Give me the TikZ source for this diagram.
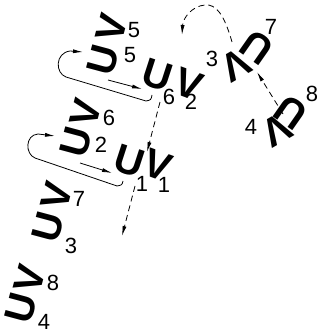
\documentclass[tikz,border=0pt]{standalone}
\usepackage{fontspec}
\setmainfont{Liberation Sans}
\usetikzlibrary{arrows.meta}
\begin{document}
\begin{tikzpicture}[x=1pt,y=-1pt,
  gl/.style={font=\fontsize{40}{40}\selectfont\bfseries, inner sep=0pt},
  num/.style={font=\fontsize{22}{22}\selectfont, inner sep=0pt},
  lp/.style={line width=0.8pt, -{Latex[length=10pt,width=4pt]}},
  dsh/.style={line width=0.8pt, dash pattern=on 6pt off 4pt, -{Latex[length=10pt,width=4pt]}}]
\useasboundingbox (0,0) rectangle (321,336);
% left column
\node[gl, rotate=75] (V5) at (112,28) {V};
\node[num] (n5a) at (134,30) {5};
\node[gl, rotate=75] (U5) at (103,60) {U};
\node[num] (n5b) at (130,55) {5};
\node[gl, rotate=-18] (U6) at (157,75) {U};
\node[num] (n6) at (169,97) {6};
\node[gl, rotate=-20] (V2) at (189,84) {V};
\node[num] (n2) at (191,102) {2};
\node[gl, rotate=75] (V6) at (86,113) {V};
\node[num] (n6b) at (109,118) {6};
\node[gl, rotate=75] (U2) at (76,142) {U};
\node[num] (n2b) at (101,145) {2};
\node[gl, rotate=-18] (U1) at (129,161) {U};
\node[num] (n1a) at (142,184) {1};
\node[gl, rotate=-20] (V1) at (158,165) {V};
\node[num] (n1b) at (164,185) {1};
\node[gl, rotate=75] (V7) at (57,196) {V};
\node[num] (n7) at (79,199) {7};
\node[gl, rotate=75] (U3) at (48,227) {U};
\node[num] (n3) at (71,246) {3};
\node[gl, rotate=75] (V8) at (30,279) {V};
\node[num] (n8) at (53,283) {8};
\node[gl, rotate=75] (U4) at (21,308) {U};
\node[num] (n4) at (44,322) {4};
% right
\node[num] (n3r) at (212,59) {3};
\node[gl, rotate=210] (Wa) at (236,65) {V};
\node[gl, rotate=145] (Ua) at (257,47) {U};
\node[num] (n7r) at (271,27) {7};
\node[num] (n4r) at (251,127) {4};
\node[gl, rotate=210] (Wb) at (277,130) {V};
\node[gl, rotate=145] (Ub) at (291,112) {U};
\node[num] (n8r) at (312,94) {8};
% coordinates
\coordinate (h1) at (152,95);
\coordinate (t1) at (83,52);
\coordinate (h2) at (123,181);
\coordinate (t2) at (55,136);
\coordinate (s1a) at (108,80);
\coordinate (s1b) at (142,89);
\coordinate (s2a) at (80,163);
\coordinate (s2b) at (112,173);
\coordinate (d1a) at (160,102);
\coordinate (d1b) at (147,152);
\coordinate (d2a) at (135,186);
\coordinate (d2b) at (122,236);
\coordinate (d3a) at (232,42);
\coordinate (d3b) at (182,35);
\coordinate (d4a) at (283,114);
\coordinate (d4b) at (257,72);
% loops
\draw[lp] (h1) .. controls (151,100) .. (146,101) -- (66,77) .. controls (55,73) and (55,53) .. (70,51) -- (t1);
\draw[lp] (h2) .. controls (122,185) .. (117,186) -- (35,158) .. controls (25,154) and (25,135) .. (38,134) -- (t2);
\draw[lp] (s1a) -- (s1b);
\draw[lp] (s2a) -- (s2b);
% dashed
\draw[dsh] (d1a) -- (d1b);
\draw[dsh] (d2a) -- (d2b);
\draw[dsh] (d3a) .. controls (224,14) and (216,4) .. (205,5) .. controls (192,6) and (183,18) .. (d3b);
\draw[dsh] (d4a) -- (d4b);
\end{tikzpicture}
\end{document}
